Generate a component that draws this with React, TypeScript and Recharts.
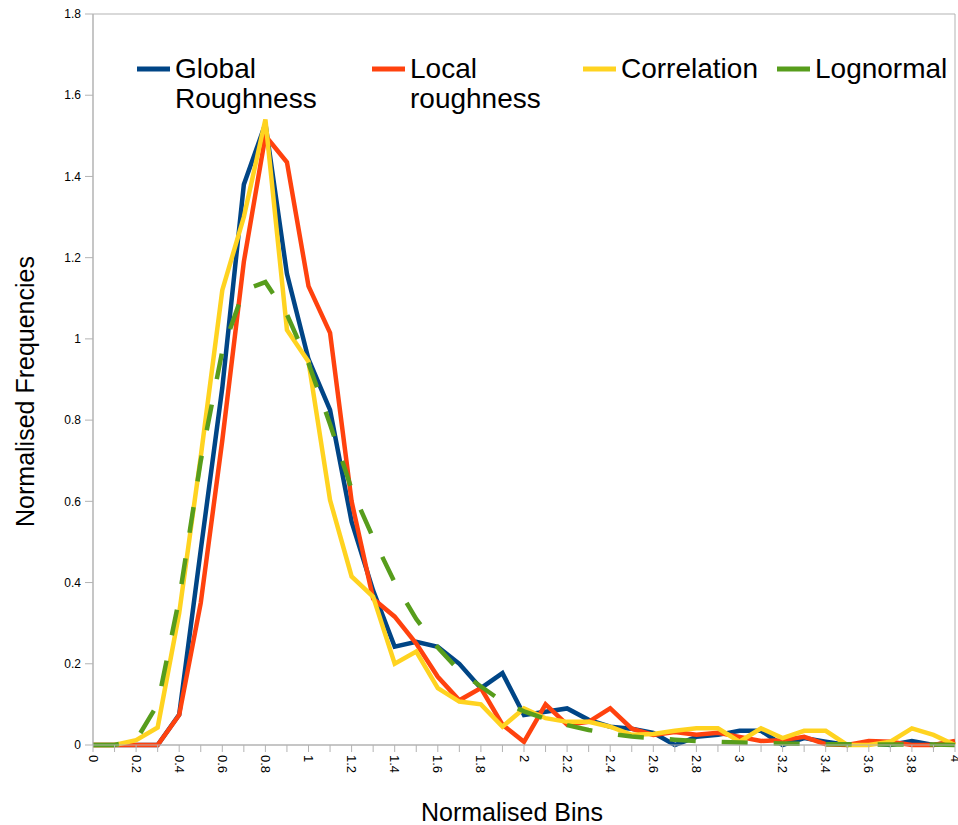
import React from 'react';
import { LineChart, Line, XAxis, YAxis, Legend, ReferenceArea, Label } from 'recharts';

// bin centres (normalised), one point per 0.1
const BINS = [
  0, 0.1, 0.2, 0.3, 0.4, 0.5, 0.6, 0.7, 0.8, 0.9,
  1, 1.1, 1.2, 1.3, 1.4, 1.5, 1.6, 1.7, 1.8, 1.9,
  2, 2.1, 2.2, 2.3, 2.4, 2.5, 2.6, 2.7, 2.8, 2.9,
  3, 3.1, 3.2, 3.3, 3.4, 3.5, 3.6, 3.7, 3.8, 3.9, 4,
];

const GLOBAL_ROUGHNESS = [
  0, 0, 0, 0, 0.075, 0.48, 0.88, 1.38, 1.53, 1.16,
  0.95, 0.825, 0.55, 0.38, 0.242, 0.254, 0.242, 0.2, 0.14, 0.177,
  0.074, 0.082, 0.09, 0.062, 0.045, 0.04, 0.03, 0, 0.02, 0.025,
  0.035, 0.035, 0, 0.017, 0.008, 0, 0.005, 0, 0.01, 0, 0.008,
];

const LOCAL_ROUGHNESS = [
  0, 0, 0, 0, 0.074, 0.35, 0.75, 1.19, 1.5, 1.435,
  1.13, 1.015, 0.6, 0.36, 0.316, 0.25, 0.168, 0.11, 0.14, 0.05,
  0.008, 0.1, 0.05, 0.057, 0.09, 0.04, 0.025, 0.032, 0.025, 0.03,
  0.02, 0.01, 0.012, 0.02, 0.002, 0, 0.01, 0.008, 0, 0, 0.01,
];

const CORRELATION = [
  0, 0, 0.012, 0.043, 0.325, 0.71, 1.12, 1.3, 1.54, 1.022,
  0.944, 0.603, 0.415, 0.365, 0.2, 0.23, 0.14, 0.107, 0.1, 0.045,
  0.09, 0.066, 0.057, 0.057, 0.045, 0.025, 0.027, 0.035, 0.041, 0.041,
  0.008, 0.041, 0.017, 0.035, 0.035, 0, 0, 0.008, 0.041, 0.025, 0,
];

const LOGNORMAL = [
  0, 0, 0.012, 0.1, 0.36, 0.7, 0.97, 1.12, 1.14, 1.06,
  0.94, 0.79, 0.63, 0.51, 0.4, 0.31, 0.24, 0.183, 0.144, 0.107,
  0.083, 0.064, 0.049, 0.037, 0.028, 0.021, 0.017, 0.013, 0.01, 0.008,
  0.006, 0.005, 0.004, 0.003, 0.002, 0.002, 0.001, 0.001, 0.001, 0.001, 0,
];

const Y_TICKS = [0, 0.2, 0.4, 0.6, 0.8, 1, 1.2, 1.4, 1.6, 1.8];

const SERIES = [
  { key: 'global', name: 'Global Roughness', color: '#004586', dash: undefined },
  { key: 'local', name: 'Local roughness', color: '#ff420e', dash: undefined },
  { key: 'correlation', name: 'Correlation', color: '#ffd320', dash: undefined },
  { key: 'lognormal', name: 'Lognormal', color: '#579d1c', dash: '26 26' },
];

const data = BINS.map((bin, i) => ({
  bin,
  global: GLOBAL_ROUGHNESS[i],
  local: LOCAL_ROUGHNESS[i],
  correlation: CORRELATION[i],
  lognormal: LOGNORMAL[i],
}));

const FONT = '"Liberation Sans", Arial, sans-serif';
const AXIS_GREY = '#b3b3b3';
const LEGEND_X = [137, 372, 583, 777];

const fmt = (v: number) => String(Number(v.toFixed(1)));

// every bin gets a tick mark, only every second one a label
function BinTick({ x, y, payload }: any) {
  if (Math.round(payload.value * 10) % 2 !== 0) return null;
  return (
    <text
      x={x}
      y={y}
      transform={`rotate(90, ${x}, ${y})`}
      textAnchor="start"
      dominantBaseline="central"
      fontSize={13}
      fontFamily={FONT}
      fill="#000"
    >
      {fmt(payload.value)}
    </text>
  );
}

function SeriesLegend() {
  return (
    <div style={{ position: 'relative', height: 60, fontFamily: FONT, fontSize: 28, color: '#000' }}>
      {SERIES.map((s, i) => (
        <div key={s.key} style={{ position: 'absolute', left: LEGEND_X[i], top: 0, display: 'flex', alignItems: 'flex-start' }}>
          <svg width={33} height={30} style={{ display: 'block' }}>
            <line x1={0} x2={33} y1={15} y2={15} stroke={s.color} strokeWidth={5} />
          </svg>
          <div style={{ marginLeft: 5, width: 150, lineHeight: '30px', textAlign: 'left' }}>{s.name}</div>
        </div>
      ))}
    </div>
  );
}

export default function App() {
  return (
    <div style={{ position: 'absolute', left: 0, top: 0, background: '#fff' }}>
      <LineChart width={958} height={825} data={data} margin={{ top: 14, right: 3, bottom: 0, left: 0 }}>
        <ReferenceArea x1={0} x2={4} y1={0} y2={1.8} fill="none" stroke={AXIS_GREY} strokeWidth={1} ifOverflow="visible" />
        <XAxis
          dataKey="bin"
          type="number"
          domain={[0, 4]}
          ticks={BINS}
          interval={0}
          height={80}
          stroke={AXIS_GREY}
          tickSize={7}
          tickMargin={3}
          tick={<BinTick />}
        >
          <Label
            content={({ viewBox }: any) => (
              <text x={viewBox.x + viewBox.width / 2 - 12} y={viewBox.y + 76} textAnchor="middle" fontSize={25} fontFamily={FONT} fill="#000">
                Normalised Bins
              </text>
            )}
          />
        </XAxis>
        <YAxis
          type="number"
          domain={[0, 1.8]}
          ticks={Y_TICKS}
          interval={0}
          width={93}
          stroke={AXIS_GREY}
          tickSize={8}
          tickMargin={4}
          tickFormatter={fmt}
          tick={{ fontSize: 12, fontFamily: FONT, fill: '#000' }}
        >
          <Label
            content={({ viewBox }: any) => {
              const cx = 25;
              const cy = viewBox.y + viewBox.height / 2 + 12;
              return (
                <text x={cx} y={cy} transform={`rotate(-90, ${cx}, ${cy})`} textAnchor="middle" dominantBaseline="central" fontSize={25} fontFamily={FONT} fill="#000">
                  Normalised Frequencies
                </text>
              );
            }}
          />
        </YAxis>
        <Legend
          layout="horizontal"
          verticalAlign="middle"
          align="center"
          content={<SeriesLegend />}
          wrapperStyle={{ left: 0, top: 54, width: 958 }}
        />
        {SERIES.map(s => (
          <Line
            key={s.key}
            dataKey={s.key}
            name={s.name}
            type="linear"
            stroke={s.color}
            strokeWidth={4.5}
            strokeDasharray={s.dash}
            strokeLinejoin="miter"
            dot={false}
            activeDot={false}
            isAnimationActive={false}
          />
        ))}
      </LineChart>
    </div>
  );
}
